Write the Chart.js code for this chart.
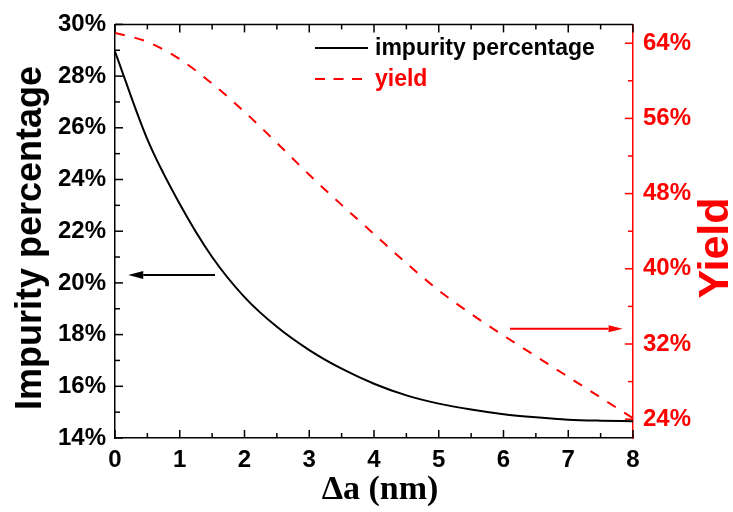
<!DOCTYPE html>
<html>
<head>
<meta charset="utf-8">
<script src="https://cdn.jsdelivr.net/npm/chart.js@4.4.1/dist/chart.umd.min.js"></script>
<style>
  html, body { margin: 0; padding: 0; background: #fff; }
  #wrap { width: 733px; height: 512px; }
</style>
</head>
<body>
<div id="wrap"><canvas id="chart" width="733" height="512"></canvas></div>
<script>
// values
const deltaA = [0, 0.5, 1, 1.5, 2, 2.5, 3, 3.5, 4, 4.5, 5, 5.5, 6, 6.5, 7, 7.5, 8];
const impurity = [28.95, 25.55, 23.05, 21.0, 19.45, 18.3, 17.4, 16.68, 16.1, 15.65, 15.33, 15.1, 14.92, 14.8, 14.71, 14.67, 14.65];
const yieldPct = [65.1, 64.15, 62.3, 59.7, 56.7, 53.4, 50.0, 46.8, 43.7, 40.6, 37.7, 35.2, 32.9, 30.7, 28.5, 26.3, 24.1];

const xMajor = [0, 1, 2, 3, 4, 5, 6, 7, 8];
const xMinor = [0.5, 1.5, 2.5, 3.5, 4.5, 5.5, 6.5, 7.5];
const leftMajor = [14, 16, 18, 20, 22, 24, 26, 28, 30];
const leftMinor = [15, 17, 19, 21, 23, 25, 27, 29];
const rightMajor = [24, 32, 40, 48, 56, 64];
const rightMinor = [28, 36, 44, 52, 60];

// arrow annotations (data coordinates)
const arrows = [
  { from: 1.544, to: 0.205, value: 20.31, axis: 'y', color: '#000', head: 15, half: 4 },
  { from: 6.10, to: 7.84, value: 33.63, axis: 'y1', color: '#ff0000', head: 14, half: 3.5 }
];

const RED = '#ff0000';
const SANS = '"Liberation Sans", Arial, sans-serif';
const tickFont = { family: SANS, size: 24, weight: 'bold' };

const framePlugin = {
  id: 'frame',
  afterDraw(chart) {
    const { ctx, chartArea: a, scales } = chart;
    const x = scales.x, y = scales.y, y1 = scales.y1;
    const seg = (x0, y0, x1, y1_) => { ctx.beginPath(); ctx.moveTo(x0, y0); ctx.lineTo(x1, y1_); ctx.stroke(); };
    ctx.save();
    ctx.lineWidth = 1.5;
    ctx.strokeStyle = '#000';
    seg(a.left, a.top, a.right, a.top);
    // x ticks, bottom and top, pointing inward
    xMajor.forEach(v => { const p = x.getPixelForValue(v); seg(p, a.bottom, p, a.bottom - 8); seg(p, a.top, p, a.top + 8); });
    xMinor.forEach(v => { const p = x.getPixelForValue(v); seg(p, a.bottom, p, a.bottom - 5); seg(p, a.top, p, a.top + 5); });
    leftMajor.forEach(v => { const p = y.getPixelForValue(v); seg(a.left, p, a.left + 8, p); });
    leftMinor.forEach(v => { const p = y.getPixelForValue(v); seg(a.left, p, a.left + 5, p); });
    ctx.strokeStyle = RED;
    rightMajor.forEach(v => { const p = y1.getPixelForValue(v); seg(a.right, p, a.right - 8, p); });
    rightMinor.forEach(v => { const p = y1.getPixelForValue(v); seg(a.right, p, a.right - 5, p); });

    // arrows
    arrows.forEach(ar => {
      const sc = scales[ar.axis];
      const py = sc.getPixelForValue(ar.value);
      const px0 = x.getPixelForValue(ar.from), px1 = x.getPixelForValue(ar.to);
      const dir = px1 > px0 ? 1 : -1;
      ctx.strokeStyle = ar.color; ctx.fillStyle = ar.color; ctx.lineWidth = 2;
      seg(px0, py, px1 - dir * ar.head, py);
      ctx.beginPath();
      ctx.moveTo(px1, py);
      ctx.lineTo(px1 - dir * ar.head, py - ar.half);
      ctx.lineTo(px1 - dir * ar.head, py + ar.half);
      ctx.closePath();
      ctx.fill();
    });

    // legend
    const lx0 = 315, lx1 = 368, tx = 375;
    ctx.font = 'bold 23px ' + SANS;
    ctx.textAlign = 'left';
    ctx.textBaseline = 'middle';
    ctx.lineWidth = 2;
    ctx.strokeStyle = '#000';
    seg(lx0, 48, lx1, 48);
    ctx.fillStyle = '#000';
    ctx.fillText('impurity percentage', tx, 49);
    ctx.strokeStyle = RED;
    ctx.setLineDash([10, 8.5]);
    seg(lx0, 79, lx1, 79);
    ctx.setLineDash([]);
    ctx.fillStyle = RED;
    ctx.fillText('yield', tx, 80);

    // axis titles
    ctx.textAlign = 'center';
    ctx.fillStyle = '#000';
    ctx.save();
    ctx.translate(31, 238);
    ctx.rotate(-Math.PI / 2);
    ctx.font = 'bold 36px ' + SANS;
    ctx.fillText('Impurity percentage', 0, 0);
    ctx.restore();
    ctx.save();
    ctx.translate(716, 248);
    ctx.rotate(-Math.PI / 2);
    ctx.font = 'bold 43px ' + SANS;
    ctx.fillStyle = RED;
    ctx.fillText('Yield', 0, 0);
    ctx.restore();
    ctx.font = 'bold 34px "Liberation Serif", "Times New Roman", serif';
    ctx.textBaseline = 'alphabetic';
    ctx.fillText('\u0394a (nm)', 380, 499);
    ctx.restore();
  }
};

new Chart(document.getElementById('chart').getContext('2d'), {
  type: 'line',
  data: {
    datasets: [
      {
        label: 'impurity percentage',
        data: deltaA.map((v, i) => ({ x: v, y: impurity[i] })),
        yAxisID: 'y',
        borderColor: '#000',
        borderWidth: 2,
        pointRadius: 0,
        cubicInterpolationMode: 'monotone'
      },
      {
        label: 'yield',
        data: deltaA.map((v, i) => ({ x: v, y: yieldPct[i] })),
        yAxisID: 'y1',
        borderColor: RED,
        borderWidth: 2,
        borderDash: [10, 10],
        pointRadius: 0,
        cubicInterpolationMode: 'monotone'
      }
    ]
  },
  options: {
    responsive: false,
    animation: false,
    layout: { padding: { top: 21, right: 41, left: 0, bottom: 0 } },
    plugins: { legend: { display: false }, tooltip: { enabled: false } },
    scales: {
      x: {
        type: 'linear',
        min: 0, max: 8,
        ticks: { stepSize: 1, font: tickFont, color: '#000', padding: 8, maxRotation: 0 },
        grid: { display: false, drawTicks: false },
        border: { display: true, color: '#000', width: 1.5 },
        afterFit: s => { s.height = 74; }
      },
      y: {
        position: 'left',
        min: 14, max: 30,
        ticks: { stepSize: 2, font: tickFont, color: '#000', padding: 9, callback: v => v + '%' },
        grid: { display: false, drawTicks: false },
        border: { display: true, color: '#000', width: 1.5 },
        afterFit: s => { s.width = 115; }
      },
      y1: {
        position: 'right',
        min: 22, max: 66,
        afterBuildTicks: s => { s.ticks = rightMajor.map(v => ({ value: v })); },
        ticks: { font: tickFont, color: RED, padding: 10, callback: v => v + '%' },
        grid: { display: false, drawTicks: false },
        border: { display: true, color: RED, width: 1.5 },
        afterFit: s => { s.width = 59; }
      }
    }
  },
  plugins: [framePlugin]
});
</script>
</body>
</html>
